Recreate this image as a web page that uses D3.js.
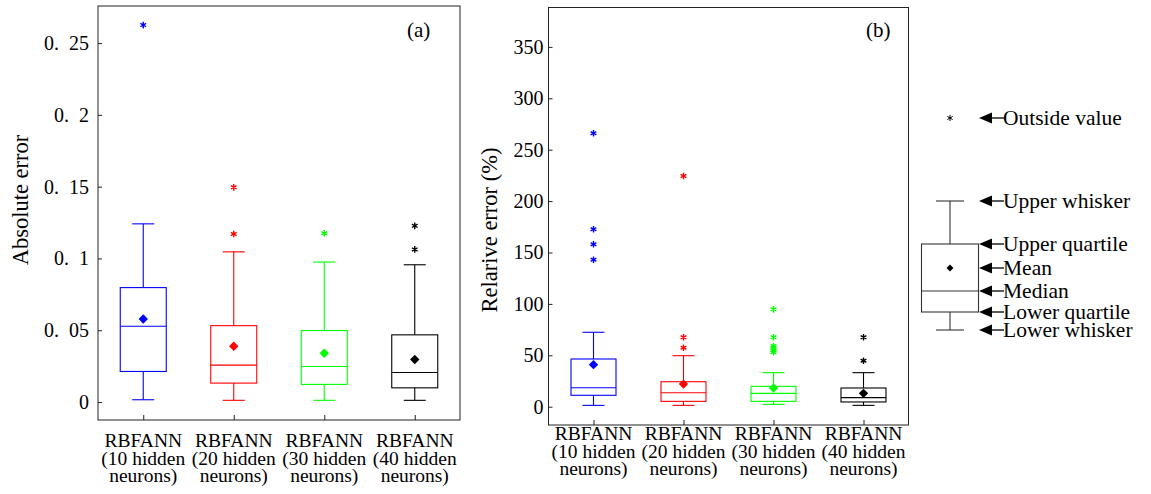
<!DOCTYPE html>
<html>
<head>
<meta charset="utf-8">
<script src="https://cdn.jsdelivr.net/npm/d3@7"></script>
<style>
body { margin: 0; background: #fff; }
svg text { font-family: "Liberation Serif", "DejaVu Serif", serif; fill: #000; }
</style>
</head>
<body>
<svg id="chart" width="1151" height="494"></svg>
<script>
var categories = ['10', '20', '30', '40'];
var colors = ['#0000ff', '#ff0000', '#00ff00', '#000000'];

// (a) absolute error
var absLow = [0.0016, 0.0012, 0.0012, 0.0012];
var absQ1 = [0.0213, 0.0132, 0.0123, 0.0099];
var absMedian = [0.0528, 0.0257, 0.0248, 0.0206];
var absQ3 = [0.0797, 0.0532, 0.0498, 0.0468];
var absHigh = [0.1241, 0.1046, 0.0975, 0.0956];
var absMean = [0.0578, 0.0389, 0.034, 0.0296];
var absOutliers = [[0.2625], [0.117, 0.1495], [0.1176], [0.1227, 0.1063]];
var absTicks = [0, 0.05, 0.1, 0.15, 0.2, 0.25];

// (b) relative error (%)
var relLow = [1.3, 1.3, 2.3, 1.3];
var relQ1 = [11.1, 5.2, 5.2, 4.6];
var relMedian = [18.5, 13.6, 13, 8.8];
var relQ3 = [46.4, 24.3, 19.8, 18.2];
var relHigh = [72.4, 49.6, 33.1, 33.1];
var relMean = [40.9, 22, 18.2, 13];
var relOutliers = [[266, 172.6, 158, 143], [224.4, 67.5, 57.4], [94.7, 67.5, 59, 57, 55, 53], [67.5, 44.7]];
var relTicks = [0, 50, 100, 150, 200, 250, 300, 350];

// legend: schematic box, one value per arrow
var legendLabels = ['Outside value', 'Upper whisker', 'Upper quartile', 'Mean', 'Median', 'Lower quartile', 'Lower whisker'];
var legendValues = [212, 129, 86, 62, 39, 18, 0];

var serif = 'Liberation Serif';
var svg = d3.select('#chart');

function drawPanel(p) {
    var g = svg.append('g').attr('class', 'panel');
    var x = d3.scalePoint().domain(categories).range([p.left, p.right]).padding(0.5);
    var y = d3.scaleLinear().domain(p.domain).range([p.bottom, p.top]);

    g.append('rect')
        .attr('x', p.left).attr('y', p.top)
        .attr('width', p.right - p.left).attr('height', p.bottom - p.top)
        .attr('fill', 'none').attr('stroke', '#222').attr('stroke-width', 1);

    var yAxis = g.append('g')
        .attr('transform', 'translate(' + p.left + ',0)')
        .call(d3.axisLeft(y).tickValues(p.ticks).tickSize(-4).tickPadding(p.tickPad).tickFormat(p.fmt));
    yAxis.attr('font-family', null).attr('font-size', null);
    yAxis.select('.domain').remove();
    yAxis.selectAll('line').attr('stroke', '#222');
    yAxis.selectAll('text')
        .attr('font-family', serif)
        .attr('font-size', 20)
        .attr('fill', '#000');

    var xAxis = g.append('g')
        .attr('transform', 'translate(0,' + p.bottom + ')')
        .call(d3.axisBottom(x).tickSize(-5).tickFormat(''));
    xAxis.select('.domain').remove();
    xAxis.selectAll('line').attr('stroke', '#222');

    categories.forEach(function(c, i) {
        var lines = ['RBFANN', '(' + c + ' hidden', 'neurons)'];
        lines.forEach(function(t, j) {
            g.append('text')
                .attr('x', x(c)).attr('y', p.labelY + j * 17.7)
                .attr('text-anchor', 'middle')
                .attr('font-family', serif)
                .attr('font-size', 19.5)
                .text(t);
        });
    });

    var bw = p.boxW;
    var cw = 22;
    categories.forEach(function(c, i) {
        var gb = g.append('g').attr('stroke', colors[i]).attr('fill', 'none').attr('stroke-width', 1.1);
        var cx = x(c);
        gb.append('line').attr('x1', cx).attr('x2', cx).attr('y1', y(p.q3[i])).attr('y2', y(p.high[i]));
        gb.append('line').attr('x1', cx).attr('x2', cx).attr('y1', y(p.q1[i])).attr('y2', y(p.low[i]));
        gb.append('line').attr('x1', cx - cw / 2).attr('x2', cx + cw / 2).attr('y1', y(p.high[i])).attr('y2', y(p.high[i]));
        gb.append('line').attr('x1', cx - cw / 2).attr('x2', cx + cw / 2).attr('y1', y(p.low[i])).attr('y2', y(p.low[i]));
        gb.append('rect')
            .attr('x', cx - bw / 2).attr('y', y(p.q3[i]))
            .attr('width', bw).attr('height', y(p.q1[i]) - y(p.q3[i]));
        gb.append('line').attr('x1', cx - bw / 2).attr('x2', cx + bw / 2).attr('y1', y(p.median[i])).attr('y2', y(p.median[i]));

        g.selectAll(null).data(p.outliers[i]).enter().append('path')
            .attr('d', d3.symbol(d3.symbolAsterisk, 30))
            .attr('transform', function(d) { return 'translate(' + cx + ',' + y(d) + ')'; })
            .attr('stroke', colors[i]).attr('stroke-width', 1.4).attr('fill', 'none');

        g.append('path')
            .attr('d', d3.symbol(d3.symbolSquare, 44))
            .attr('transform', 'translate(' + cx + ',' + y(p.mean[i]) + ') rotate(45)')
            .attr('fill', colors[i]);
    });

    g.append('text')
        .attr('transform', 'translate(' + p.yLabelX + ',' + p.yLabelY + ') rotate(-90)')
        .attr('text-anchor', 'middle')
        .attr('font-size', 22.5)
        .text(p.yLabel);

    g.append('text')
        .attr('x', p.tagX).attr('y', 37)
        .attr('font-size', 21)
        .text(p.tag);
}

drawPanel({
    left: 98, right: 460, top: 6, bottom: 420,
    domain: [-0.0125, 0.2758], ticks: absTicks, tickPad: 9,
    fmt: function(d) { return d3.format('~g')(d).replace('.', '.\u2002'); },
    low: absLow, q1: absQ1, median: absMedian, q3: absQ3, high: absHigh, mean: absMean, outliers: absOutliers,
    boxW: 46, labelY: 447,
    yLabel: 'Absolute error', yLabelX: 28, yLabelY: 200,
    tag: '(a)', tagX: 407
});

drawPanel({
    left: 548.5, right: 908.5, top: 7.5, bottom: 425,
    domain: [-17.8, 388.3], ticks: relTicks, tickPad: 5,
    fmt: d3.format('d'),
    low: relLow, q1: relQ1, median: relMedian, q3: relQ3, high: relHigh, mean: relMean, outliers: relOutliers,
    boxW: 45, labelY: 440,
    yLabel: 'Relarive error (%)', yLabelX: 497, yLabelY: 230,
    tag: '(b)', tagX: 866
});

// legend
var ly = d3.scaleLinear().domain([0, 212]).range([330, 118]);
var lg = svg.append('g').attr('class', 'legend');
var lx = 950;
var lBoxW = 57, lCapW = 28;
lg.append('path')
    .attr('d', d3.symbol(d3.symbolAsterisk, 26))
    .attr('transform', 'translate(' + lx + ',' + ly(legendValues[0]) + ')')
    .attr('stroke', '#000').attr('fill', 'none');
var lb = lg.append('g').attr('stroke', '#333').attr('fill', 'none').attr('stroke-width', 1.1);
lb.append('line').attr('x1', lx).attr('x2', lx).attr('y1', ly(legendValues[1])).attr('y2', ly(legendValues[2]));
lb.append('line').attr('x1', lx).attr('x2', lx).attr('y1', ly(legendValues[5])).attr('y2', ly(legendValues[6]));
lb.append('line').attr('x1', lx - lCapW / 2).attr('x2', lx + lCapW / 2).attr('y1', ly(legendValues[1])).attr('y2', ly(legendValues[1]));
lb.append('line').attr('x1', lx - lCapW / 2).attr('x2', lx + lCapW / 2).attr('y1', ly(legendValues[6])).attr('y2', ly(legendValues[6]));
lb.append('rect').attr('x', lx - lBoxW / 2).attr('y', ly(legendValues[2]))
    .attr('width', lBoxW).attr('height', ly(legendValues[5]) - ly(legendValues[2]));
lb.append('line').attr('x1', lx - lBoxW / 2).attr('x2', lx + lBoxW / 2).attr('y1', ly(legendValues[4])).attr('y2', ly(legendValues[4]));
lg.append('path')
    .attr('d', d3.symbol(d3.symbolSquare, 24))
    .attr('transform', 'translate(' + lx + ',' + ly(legendValues[3]) + ') rotate(45)')
    .attr('fill', '#000');

var tipX = 979;
legendLabels.forEach(function(t, i) {
    var yy = ly(legendValues[i]);
    lg.append('path')
        .attr('d', 'M' + tipX + ',' + yy + 'L' + (tipX + 13) + ',' + (yy - 5.5) + 'L' + (tipX + 13) + ',' + (yy + 5.5) + 'Z')
        .attr('fill', '#000');
    lg.append('line')
        .attr('x1', tipX + 12).attr('x2', 1004).attr('y1', yy).attr('y2', yy)
        .attr('stroke', '#000').attr('stroke-width', 1.3);
    lg.append('text')
        .attr('x', 1003).attr('y', yy + 6.5)
        .attr('font-size', 21.5)
        .text(t);
});
</script>
</body>
</html>
